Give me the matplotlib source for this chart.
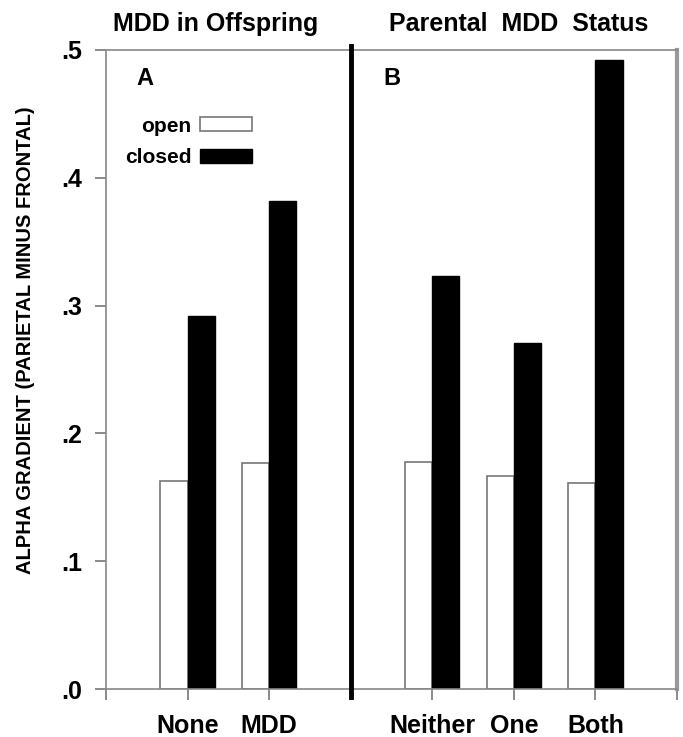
import matplotlib.pyplot as plt
from matplotlib.transforms import blended_transform_factory

plt.rcParams['font.family'] = ['Liberation Sans', 'DejaVu Sans']

groups = ['None', 'MDD', 'Neither', 'One', 'Both']
xpos = [1, 2, 4, 5, 6]
open_vals = [0.163, 0.177, 0.178, 0.167, 0.161]
closed_vals = [0.292, 0.382, 0.323, 0.271, 0.492]
yticks = [0, 0.1, 0.2, 0.3, 0.4, 0.5]
ytick_labels = ['.0', '.1', '.2', '.3', '.4', '.5']

fig = plt.figure(figsize=(6.83, 7.37), dpi=100)
ax = fig.add_axes([0.1552, 0.0651, 0.836, 0.8671])

w = 1 / 3
xo = [x - w / 2 for x in xpos]
xc = [x + w / 2 for x in xpos]
ax.bar(xo, open_vals, width=w, color='white', edgecolor='#777777', linewidth=1.2, label='open')
ax.bar(xc, closed_vals, width=w, color='black', edgecolor='black', linewidth=1, label='closed')

ax.set_xlim(0, 7)
ax.set_ylim(0, 0.5)
ax.set_yticks(yticks)
ax.set_yticklabels(ytick_labels, fontsize=18, fontweight='bold')
ax.set_xticks(range(8))
ax.set_xticklabels([])
ax.tick_params(axis='both', direction='out', length=8, color='#777777', width=1.2)
ax.tick_params(axis='y', pad=9)

for s in ['left', 'bottom', 'top']:
    ax.spines[s].set_color('#888888')
    ax.spines[s].set_linewidth(1.2)
ax.spines['right'].set_color('#999999')
ax.spines['right'].set_linewidth(3)

# divider between panels
ax.plot([3, 3], [-0.006, 0.503], color='black', linewidth=3.5, clip_on=False, zorder=5)

trans = blended_transform_factory(ax.transData, ax.transAxes)
for x, g in zip(xpos, groups):
    ax.text(x, -0.058, g, transform=trans, ha='center', va='center', fontsize=18, fontweight='bold')

ax.text(1.34, 1.04, 'MDD in Offspring', transform=trans, ha='center', va='center',
        fontsize=18, fontweight='bold')
ax.text(5.06, 1.04, 'Parental  MDD  Status', transform=trans, ha='center', va='center',
        fontsize=18, fontweight='bold')
ax.text(0.48, 0.955, 'A', transform=trans, ha='center', va='center', fontsize=17, fontweight='bold')
ax.text(3.5, 0.955, 'B', transform=trans, ha='center', va='center', fontsize=17, fontweight='bold')

ax.legend(loc='upper left', bbox_to_anchor=(0.0, 0.925), frameon=False, markerfirst=False,
          prop={'size': 15, 'weight': 'bold'}, handlelength=2.5, handleheight=0.65,
          handletextpad=0.4, labelspacing=0.6)

ax.set_ylabel('ALPHA GRADIENT (PARIETAL MINUS FRONTAL)', fontsize=14.5, fontweight='bold')
ax.yaxis.set_label_coords(-0.125, 0.546)

fig.savefig('out.png', dpi=100)
